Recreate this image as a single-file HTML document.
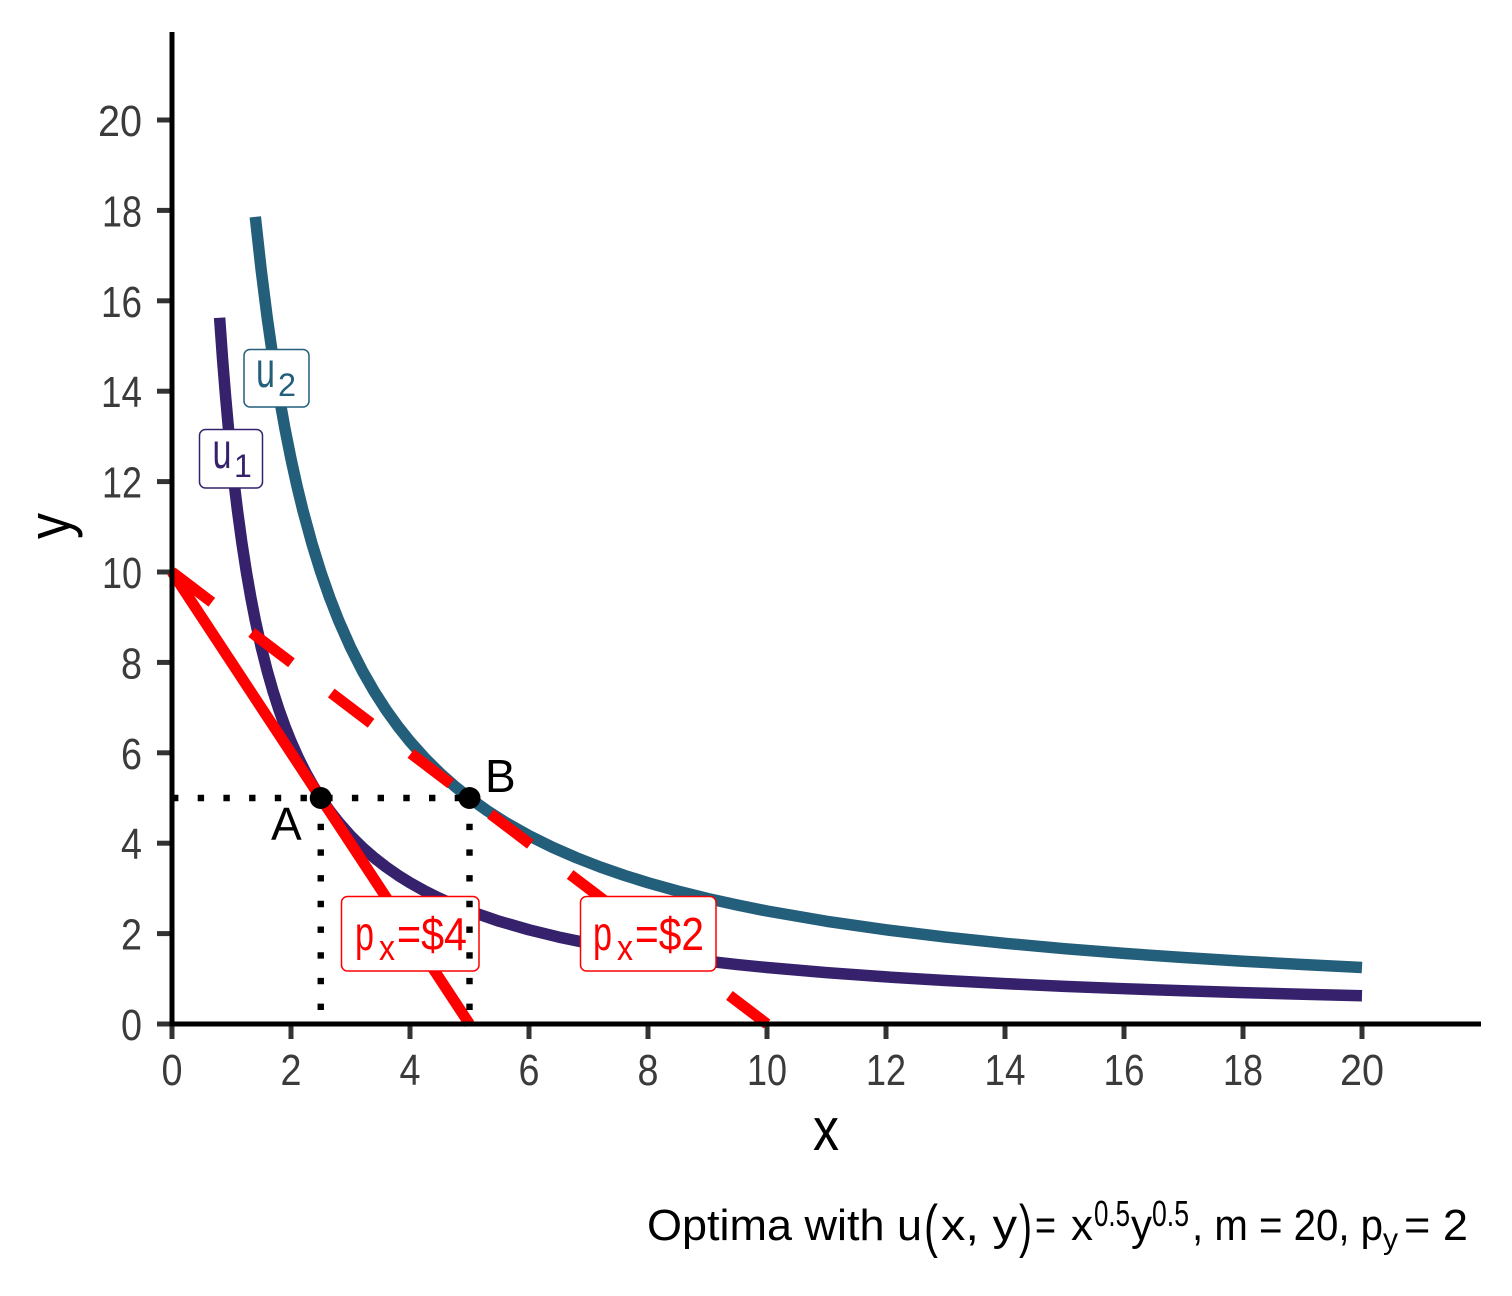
<!DOCTYPE html>
<html>
<head>
<meta charset="utf-8">
<style>
html,body{margin:0;padding:0;background:#fff;}
svg{display:block;}
text{font-family:"Liberation Sans",sans-serif;}
</style>
</head>
<body>
<svg width="1512" height="1296" viewBox="0 0 1512 1296" xmlns="http://www.w3.org/2000/svg">
<rect x="0" y="0" width="1512" height="1296" fill="#fff"/>

<!-- indifference curves -->
<polyline fill="none" stroke="#36216C" stroke-width="11.5" stroke-linejoin="round" points="219.6,317.75 222.575,359.29 225.55,396.22 228.525,429.26 231.5,459 234.475,485.9 237.45,510.36 241.91,543.15 246.375,572 250.84,597.58 255.3,620.43 261.25,647.33 267.2,670.875 273.15,691.65 279.1,710.11 285.05,726.63 291,741.5 298.44,758.12 305.875,772.89 313.31,786.11 320.75,798 329.675,810.79 338.6,822.21 350.5,835.67 362.4,847.44 374.3,857.82 386.2,867.06 398.1,875.32 410,882.75 424.875,891.06 439.75,898.44 454.625,905.05 469.5,911 499.25,921.27 529,929.83 558.75,937.08 588.5,943.29 618.25,948.67 648,953.375 677.75,957.53 707.5,961.22 737.25,964.53 767,967.5 826.5,972.64 886,976.92 945.5,980.54 1005,983.64 1064.5,986.33 1124,988.69 1183.5,990.76 1243,992.61 1302.5,994.26 1362,995.75"/>
<polyline fill="none" stroke="#235E7A" stroke-width="11.5" stroke-linejoin="round" points="255.3,216.86 261.25,270.67 267.2,317.75 273.15,359.29 279.1,396.22 285.05,429.26 291,459 296.95,485.9 302.9,510.36 311.825,543.15 320.75,572 329.675,597.58 338.6,620.43 350.5,647.33 362.4,670.875 374.3,691.65 386.2,710.11 398.1,726.63 410,741.5 424.875,758.12 439.75,772.89 454.625,786.11 469.5,798 487.35,810.79 505.2,822.21 529,835.67 552.8,847.44 576.6,857.82 600.4,867.06 624.2,875.32 648,882.75 677.75,891.06 707.5,898.44 737.25,905.05 767,911 826.5,921.27 886,929.83 945.5,937.08 1005,943.29 1064.5,948.67 1124,953.375 1183.5,957.53 1243,961.22 1302.5,964.53 1362,967.5"/>

<!-- budget lines -->
<line x1="172" y1="572" x2="469.5" y2="1024" stroke="#FF0000" stroke-width="11"/>
<line x1="172" y1="572" x2="767" y2="1024" stroke="#FF0000" stroke-width="11" stroke-dasharray="50 50"/>

<!-- labels u -->
<rect x="244" y="349.5" width="65" height="57.5" rx="6" ry="6" fill="#fff" stroke="#235E7A" stroke-width="1.5"/>
<text x="256" y="387" font-size="50" fill="#235E7A" textLength="19" lengthAdjust="spacingAndGlyphs">u</text>
<text x="278" y="396" font-size="32" fill="#235E7A" textLength="18" lengthAdjust="spacingAndGlyphs">2</text>

<rect x="199.5" y="429.5" width="63" height="58.5" rx="6" ry="6" fill="#fff" stroke="#36216C" stroke-width="1.5"/>
<text x="212.5" y="468" font-size="50" fill="#36216C" textLength="19" lengthAdjust="spacingAndGlyphs">u</text>
<text x="234" y="477" font-size="32" fill="#36216C">1</text>

<!-- labels px -->
<rect x="341.5" y="896.5" width="137.5" height="74.5" rx="6" ry="6" fill="#fff" stroke="#FF0000" stroke-width="1.5"/>
<text x="355" y="950" font-size="48" fill="#FF0000" textLength="19" lengthAdjust="spacingAndGlyphs">p</text>
<text x="379" y="960" font-size="36" fill="#FF0000" textLength="16" lengthAdjust="spacingAndGlyphs">x</text>
<text x="397" y="950" font-size="46" fill="#FF0000" textLength="70" lengthAdjust="spacingAndGlyphs">=$4</text>

<rect x="580.5" y="896.5" width="135.5" height="74.5" rx="6" ry="6" fill="#fff" stroke="#FF0000" stroke-width="1.5"/>
<text x="593" y="950" font-size="48" fill="#FF0000" textLength="19" lengthAdjust="spacingAndGlyphs">p</text>
<text x="617" y="960" font-size="36" fill="#FF0000" textLength="16" lengthAdjust="spacingAndGlyphs">x</text>
<text x="635" y="950" font-size="46" fill="#FF0000" textLength="69" lengthAdjust="spacingAndGlyphs">=$2</text>

<!-- dotted segments -->
<g stroke="#000" stroke-width="6.4" stroke-dasharray="6.4 19.3" fill="none">
<line x1="172" y1="798" x2="469.5" y2="798"/>
<line x1="320.75" y1="798" x2="320.75" y2="1024"/>
<line x1="469.5" y1="798" x2="469.5" y2="1024"/>
</g>

<!-- points -->
<circle cx="320.75" cy="798" r="11" fill="#000"/>
<circle cx="469.5" cy="798" r="11" fill="#000"/>
<text x="271" y="840" font-size="46" fill="#000">A</text>
<text x="485" y="792" font-size="46" fill="#000">B</text>

<!-- axes -->
<g stroke="#333" stroke-width="5">
<line x1="172" y1="1024" x2="172" y2="1039"/>
<line x1="291" y1="1024" x2="291" y2="1039"/>
<line x1="410" y1="1024" x2="410" y2="1039"/>
<line x1="529" y1="1024" x2="529" y2="1039"/>
<line x1="648" y1="1024" x2="648" y2="1039"/>
<line x1="767" y1="1024" x2="767" y2="1039"/>
<line x1="886" y1="1024" x2="886" y2="1039"/>
<line x1="1005" y1="1024" x2="1005" y2="1039"/>
<line x1="1124" y1="1024" x2="1124" y2="1039"/>
<line x1="1243" y1="1024" x2="1243" y2="1039"/>
<line x1="1362" y1="1024" x2="1362" y2="1039"/>
<line x1="157" y1="1024" x2="172" y2="1024"/>
<line x1="157" y1="933.6" x2="172" y2="933.6"/>
<line x1="157" y1="843.2" x2="172" y2="843.2"/>
<line x1="157" y1="752.8" x2="172" y2="752.8"/>
<line x1="157" y1="662.4" x2="172" y2="662.4"/>
<line x1="157" y1="572" x2="172" y2="572"/>
<line x1="157" y1="481.6" x2="172" y2="481.6"/>
<line x1="157" y1="391.2" x2="172" y2="391.2"/>
<line x1="157" y1="300.8" x2="172" y2="300.8"/>
<line x1="157" y1="210.4" x2="172" y2="210.4"/>
<line x1="157" y1="120" x2="172" y2="120"/>
</g>
<line x1="172" y1="32" x2="172" y2="1026.5" stroke="#000" stroke-width="5"/>
<line x1="169.5" y1="1024" x2="1481" y2="1024" stroke="#000" stroke-width="5"/>

<!-- x tick labels -->
<g font-size="44" fill="#3b3b3b" text-anchor="middle">
<text x="172" y="1085" textLength="21" lengthAdjust="spacingAndGlyphs">0</text>
<text x="291" y="1085" textLength="21" lengthAdjust="spacingAndGlyphs">2</text>
<text x="410" y="1085" textLength="21" lengthAdjust="spacingAndGlyphs">4</text>
<text x="529" y="1085" textLength="21" lengthAdjust="spacingAndGlyphs">6</text>
<text x="648" y="1085" textLength="21" lengthAdjust="spacingAndGlyphs">8</text>
<text x="767" y="1085" textLength="40" lengthAdjust="spacingAndGlyphs">10</text>
<text x="886" y="1085" textLength="40" lengthAdjust="spacingAndGlyphs">12</text>
<text x="1005" y="1085" textLength="41" lengthAdjust="spacingAndGlyphs">14</text>
<text x="1124" y="1085" textLength="41" lengthAdjust="spacingAndGlyphs">16</text>
<text x="1243" y="1085" textLength="40" lengthAdjust="spacingAndGlyphs">18</text>
<text x="1362" y="1085" textLength="44" lengthAdjust="spacingAndGlyphs">20</text>
</g>

<!-- y tick labels -->
<g font-size="44" fill="#3b3b3b" text-anchor="end">
<text x="142" y="1040" textLength="21" lengthAdjust="spacingAndGlyphs">0</text>
<text x="142" y="949.6" textLength="21" lengthAdjust="spacingAndGlyphs">2</text>
<text x="142" y="859.2" textLength="21" lengthAdjust="spacingAndGlyphs">4</text>
<text x="142" y="768.8" textLength="21" lengthAdjust="spacingAndGlyphs">6</text>
<text x="142" y="678.4" textLength="21" lengthAdjust="spacingAndGlyphs">8</text>
<text x="142" y="588" textLength="40" lengthAdjust="spacingAndGlyphs">10</text>
<text x="142" y="497.6" textLength="40" lengthAdjust="spacingAndGlyphs">12</text>
<text x="142" y="407.2" textLength="41" lengthAdjust="spacingAndGlyphs">14</text>
<text x="142" y="316.8" textLength="41" lengthAdjust="spacingAndGlyphs">16</text>
<text x="142" y="226.4" textLength="40" lengthAdjust="spacingAndGlyphs">18</text>
<text x="142" y="136" textLength="44" lengthAdjust="spacingAndGlyphs">20</text>
</g>

<!-- axis titles -->
<text x="826" y="1150" font-size="60" fill="#000" text-anchor="middle" textLength="26" lengthAdjust="spacingAndGlyphs">x</text>
<text transform="translate(70,526) rotate(-90)" x="0" y="0" font-size="60" fill="#000" text-anchor="middle" textLength="26" lengthAdjust="spacingAndGlyphs">y</text>

<!-- caption -->
<g fill="#000">
<text x="647" y="1240" font-size="44" textLength="275" lengthAdjust="spacingAndGlyphs">Optima with u</text>
<text x="924" y="1246" font-size="58" textLength="14" lengthAdjust="spacingAndGlyphs">(</text>
<text x="941" y="1240" font-size="44" textLength="76" lengthAdjust="spacingAndGlyphs">x, y</text>
<text x="1019" y="1246" font-size="58" textLength="13" lengthAdjust="spacingAndGlyphs">)</text>
<text x="1035" y="1240" font-size="44" textLength="21" lengthAdjust="spacingAndGlyphs">=</text>
<text x="1071" y="1240" font-size="44" textLength="22" lengthAdjust="spacingAndGlyphs">x</text>
<text x="1094" y="1226" font-size="36" textLength="36" lengthAdjust="spacingAndGlyphs">0.5</text>
<text x="1131" y="1240" font-size="44" textLength="21" lengthAdjust="spacingAndGlyphs">y</text>
<text x="1152" y="1226" font-size="36" textLength="37" lengthAdjust="spacingAndGlyphs">0.5</text>
<text x="1192" y="1240" font-size="44" textLength="191" lengthAdjust="spacingAndGlyphs">, m = 20, p</text>
<text x="1383" y="1249" font-size="30" textLength="15" lengthAdjust="spacingAndGlyphs">y</text>
<text x="1404" y="1240" font-size="44" textLength="64" lengthAdjust="spacingAndGlyphs">= 2</text>
</g>
</svg>
</body>
</html>
